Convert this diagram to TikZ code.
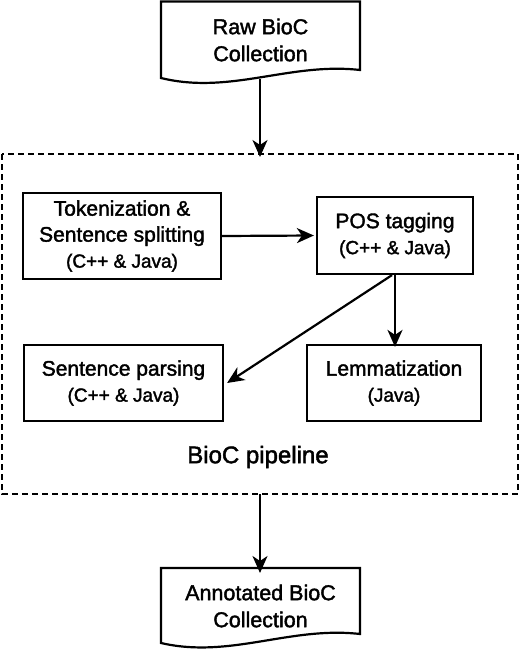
\documentclass[tikz,border=0pt]{standalone}
\usepackage{fontspec}
\setmainfont{Liberation Sans}
\newfontfamily\heavyfont{Liberation Sans}[FakeBold=1.8]
\usetikzlibrary{arrows.meta}
\tikzset{
  boxnode/.style={draw, line width=2.2pt, align=center, inner sep=0pt, font=\heavyfont\fontsize{21}{26}\selectfont},
  doctext/.style={align=center, inner sep=0pt, font=\heavyfont\fontsize{21.5}{27}\selectfont},
  docshape/.style={draw, line width=2.2pt, line join=miter},
  conn/.style={line width=2.2pt, -{Stealth[length=17pt,width=15pt,inset=5pt]}},
  pipebox/.style={draw, line width=2.2pt, dash pattern=on 6pt off 4pt},
}
\newcommand{\smalltxt}[1]{{\fontsize{19}{24}\selectfont #1}}
\begin{document}
\begin{tikzpicture}[x=1pt,y={(0pt,-1pt)}]
\useasboundingbox (0,0) rectangle (520,651);
% pipeline dashed frame
\draw[pipebox] (2,154) rectangle (518,494);
\node[font=\heavyfont\fontsize{24}{28}\selectfont] (label) at (258,457) {BioC pipeline};
% top document
\draw[docshape] (161,78) -- (161,1.5) -- (360,1.5) -- (360,70)
  .. controls (290,62) and (230,95) .. (161,78) -- cycle;
\node[doctext] (raw) at (260.5,40) {Raw BioC\\Collection};
\coordinate (rawout) at (260,79);
% bottom document
\draw[docshape] (161,643) -- (161,568) -- (360,568) -- (360,634)
  .. controls (290,626) and (230,659) .. (161,643) -- cycle;
\node[doctext] (ann) at (260.5,606) {Annotated BioC\\Collection};
\coordinate (annin) at (260,568);
\coordinate (pipetop) at (260,154);
\coordinate (pipebot) at (260,494);
% boxes
\node[boxnode, minimum width=198pt, minimum height=86pt] (tok) at (122,236)
  {Tokenization \&\\Sentence splitting\\\smalltxt{(C++ \& Java)}};
\node[boxnode, minimum width=156pt, minimum height=77pt] (pos) at (395,235.5)
  {POS tagging\\\smalltxt{(C++ \& Java)}};
\node[boxnode, minimum width=199pt, minimum height=76pt] (sent) at (123.5,383)
  {Sentence parsing\\\smalltxt{(C++ \& Java)}};
\node[boxnode, minimum width=174pt, minimum height=76pt] (lem) at (394,383)
  {Lemmatization\\\smalltxt{(Java)}};
% connectors
\draw[conn] (rawout) -- ([yshift=-3pt]pipetop);
\draw[conn] (tok.east) -- ([xshift=-2pt]pos.west);
\draw[conn] (pos.south) -- ([yshift=-3pt]pos.south |- lem.north);
\draw[conn] ([xshift=-3pt]pos.south) -- ([xshift=3pt]sent.east);
\draw[conn] (pipebot) -- ([yshift=-5pt]annin);
\end{tikzpicture}
\end{document}
